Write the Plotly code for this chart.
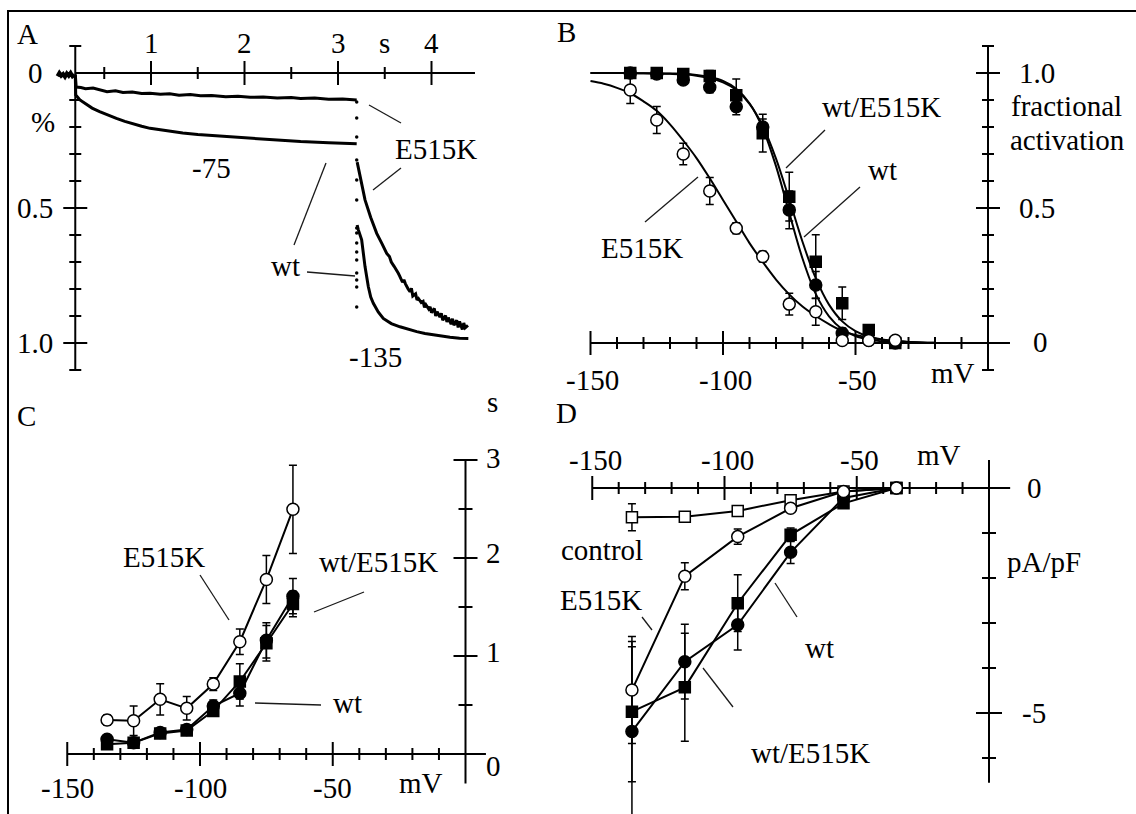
import plotly.graph_objects as go

W, H = 1136, 814
FONT = "'Liberation Serif', 'Times New Roman', Times, serif"
FS = 29
INK = "black"

# ---------------- Panel A: current traces (fraction of -135 mV level) ----------------
a_t_major = [1, 2, 3, 4]
a_t_minor = [0.5, 1.5, 2.5, 3.5]
a_t_label_at = [1, 2, 3, 3.5, 4]
a_t_labels = ["1", "2", "3", "s", "4"]
a_f_major = [0.5, 1.0]
a_f_minor = [-0.1, 0.1, 0.2, 0.3, 0.4, 0.6, 0.7, 0.8, 0.9, 1.1]
a_f_label_at = [0, 0.5, 1.0]
a_f_labels = ["0", "0.5", "1.0"]

a_hold_t = [0.0, 0.02, 0.04, 0.06, 0.08, 0.10, 0.12, 0.14, 0.16, 0.18]
a_hold_f = [0.012, 0.0, 0.01, 0.004, 0.014, 0.002, 0.01, 0.0, 0.012, 0.006]

a_mut75_t = [0.19, 0.2, 0.25, 0.3, 0.38, 0.45, 0.53, 0.62, 0.7, 0.8, 0.9, 0.99, 1.1, 1.2, 1.3,
             1.42, 1.53, 1.65, 1.8, 1.93, 2.06, 2.2, 2.35, 2.5, 2.6, 2.75, 2.9, 3.05, 3.2]
a_mut75_f = [0.006, 0.052, 0.054, 0.058, 0.056, 0.062, 0.069, 0.066, 0.072, 0.07, 0.076, 0.075,
             0.079, 0.077, 0.082, 0.08, 0.084, 0.083, 0.088, 0.086, 0.09, 0.089, 0.093, 0.091,
             0.094, 0.093, 0.097, 0.096, 0.1]

a_wt75_t = [0.19, 0.195, 0.24, 0.3, 0.37, 0.45, 0.54, 0.63, 0.72, 0.8, 0.9, 0.99, 1.15, 1.34,
            1.5, 1.7, 1.9, 2.06, 2.3, 2.6, 2.9, 3.2]
a_wt75_f = [0.006, 0.081, 0.1, 0.115, 0.13, 0.143, 0.156, 0.168, 0.179, 0.188, 0.197, 0.205,
            0.214, 0.222, 0.228, 0.233, 0.238, 0.242, 0.248, 0.254, 0.258, 0.262]

a_step_t = [3.2] * 15
a_step_f = [0.107, 0.167, 0.237, 0.322, 0.396, 0.47, 0.574, 0.593, 0.63, 0.663, 0.693,
            0.741, 0.767, 0.793, 0.867]

a_mut135_t = [3.205, 3.24, 3.289, 3.35, 3.414, 3.47, 3.521, 3.55, 3.57, 3.6, 3.628, 3.645,
              3.66, 3.69, 3.705, 3.72, 3.75, 3.77, 3.785, 3.8, 3.83, 3.845, 3.86, 3.89, 3.91,
              3.925, 3.94, 3.97, 3.985, 4.0, 4.03, 4.045, 4.06, 4.09, 4.105, 4.12, 4.15, 4.165,
              4.18, 4.21, 4.225, 4.24, 4.27, 4.285, 4.3, 4.33, 4.345, 4.36, 4.39]
a_mut135_f = [0.33, 0.39, 0.47, 0.535, 0.594, 0.632, 0.668, 0.68, 0.7, 0.716, 0.736, 0.742,
              0.752, 0.775, 0.766, 0.78, 0.8, 0.81, 0.797, 0.826, 0.818, 0.84, 0.835, 0.85,
              0.846, 0.868, 0.858, 0.874, 0.866, 0.888, 0.872, 0.9, 0.884, 0.904, 0.89, 0.916,
              0.898, 0.922, 0.906, 0.93, 0.91, 0.934, 0.916, 0.942, 0.92, 0.95, 0.926, 0.944,
              0.935]

a_wt135_t = [3.205, 3.217, 3.253, 3.289, 3.324, 3.35, 3.378, 3.43, 3.484, 3.57, 3.663, 3.75,
             3.842, 3.93, 4.019, 4.11, 4.198, 4.3, 4.394]
a_wt135_f = [0.563, 0.58, 0.618, 0.717, 0.791, 0.83, 0.853, 0.885, 0.909, 0.928, 0.94, 0.95,
             0.958, 0.965, 0.97, 0.975, 0.979, 0.982, 0.983]

# ---------------- Panel B: steady-state activation ----------------
b_mv = [-135, -125, -115, -105, -95, -85, -75, -65, -55, -45, -35]
b_wt = [1.0, 0.996, 0.974, 0.947, 0.875, 0.80, 0.493, 0.215, 0.036, 0.01, 0.0]
b_wt_err = [0.01, 0.01, 0.015, 0.02, 0.03, 0.03, 0.07, 0.05, 0.02, 0.01, 0.0]
b_mix = [1.0, 1.0, 0.996, 0.989, 0.918, 0.777, 0.542, 0.301, 0.147, 0.048, 0.0]
b_mix_err = [0.01, 0.01, 0.01, 0.02, 0.06, 0.07, 0.09, 0.1, 0.06, 0.02, 0.01]
b_mut = [0.937, 0.826, 0.70, 0.563, 0.425, 0.32, 0.144, 0.116, 0.009, 0.009, 0.01]
b_mut_err = [0.05, 0.05, 0.04, 0.05, 0.02, 0.02, 0.04, 0.05, 0.01, 0.01, 0.01]

b_fit_mv = [-150, -145, -140, -135, -130, -125, -120, -115, -110, -105, -100, -95, -90, -85,
            -80, -75, -70, -65, -60, -55, -50, -45, -40, -35, -30, -25, -20]
b_fit_wt = [1.0, 1.0, 1.0, 1.0, 0.999, 0.999, 0.998, 0.997, 0.993, 0.985, 0.971, 0.942, 0.888,
            0.795, 0.655, 0.482, 0.313, 0.182, 0.099, 0.051, 0.026, 0.013, 0.006, 0.003, 0.001,
            0.0, 0.0]
b_fit_mix = [1.0, 1.0, 1.0, 1.0, 0.999, 0.998, 0.997, 0.995, 0.99, 0.981, 0.965, 0.937, 0.886,
             0.804, 0.683, 0.532, 0.375, 0.24, 0.142, 0.08, 0.044, 0.024, 0.013, 0.007, 0.004,
             0.002, 0.001]
b_fit_mut = [0.97, 0.96, 0.945, 0.925, 0.895, 0.86, 0.81, 0.75, 0.685, 0.61, 0.53, 0.45, 0.37,
             0.30, 0.235, 0.18, 0.135, 0.10, 0.07, 0.045, 0.03, 0.02, 0.012, 0.007, 0.004,
             0.002, 0.001]

b_mv_major = [-150, -100, -50]
b_mv_minor = [-140, -130, -120, -110, -90, -80, -70, -60, -40, -30, -20, -10]
b_mv_labels = ["-150", "-100", "-50"]
b_f_major = [0.5, 1.0]
b_f_minor = [-0.1, 0.1, 0.2, 0.3, 0.4, 0.6, 0.7, 0.8, 0.9, 1.1]
b_f_labels = ["1.0", "0.5"]

# ---------------- Panel C: activation time constants (s) ----------------
c_mv = [-135, -125, -115, -105, -95, -85, -75, -65]
c_mut = [0.347, 0.34, 0.558, 0.466, 0.714, 1.146, 1.78, 2.497]
c_mut_err = [0.05, 0.15, 0.16, 0.12, 0.065, 0.13, 0.245, 0.45]
c_wt = [0.15, 0.115, 0.22, 0.25, 0.49, 0.62, 1.16, 1.61]
c_wt_err = [0.03, 0.03, 0.03, 0.03, 0.06, 0.13, 0.18, 0.18]
c_mix = [0.10, 0.115, 0.21, 0.24, 0.44, 0.74, 1.13, 1.53]
c_mix_err = [0.02, 0.03, 0.03, 0.03, 0.05, 0.18, 0.18, 0.13]

c_mv_major = [-150, -100, -50]
c_mv_minor = [-140, -130, -120, -110, -90, -80, -70, -60, -40, -30, -20, -10]
c_mv_labels = ["-150", "-100", "-50"]
c_s_major = [1, 2, 3]
c_s_minor = [0.5, 1.5, 2.5]
c_s_label_at = [3, 2, 1, 0]
c_s_labels = ["3", "2", "1", "0"]

# ---------------- Panel D: current density (pA/pF) ----------------
d_mv = [-135, -115, -95, -75, -55, -35]
d_ctl = [-0.65, -0.64, -0.51, -0.27, -0.08, 0.0]
d_ctl_err = [0.3, 0.06, 0.06, 0.04, 0.03, 0.0]
d_mut = [-4.49, -1.96, -1.08, -0.45, -0.08, 0.0]
d_mut_err = [1.19, 0.3, 0.17, 0.06, 0.03, 0.0]
d_wt = [-5.41, -3.86, -3.04, -1.43, -0.22, 0.0]
d_wt_err = [1.88, 0.83, 0.56, 0.25, 0.05, 0.0]
d_mix = [-4.97, -4.43, -2.56, -1.04, -0.34, 0.0]
d_mix_err = [1.56, 1.2, 0.63, 0.15, 0.05, 0.0]

d_mv_major = [-150, -100, -50]
d_mv_minor = [-140, -130, -120, -110, -90, -80, -70, -60, -40, -30, -20, -10]
d_mv_labels = ["-150", "-100", "-50"]
d_i_major = [-5]
d_i_minor = [-1, -2, -3, -4, -6]

fig = go.Figure()
shapes = []
annotations = []


def axes_for(n, box, xcal, ycal, flip=False):
    """Place a subplot on a pixel box; xcal/ycal = (pixel, value, pixels per unit)."""
    x0, y0, x1, y1 = box
    pr, vr, k = xcal
    xrng = [vr + (x0 - pr) / k, vr + (x1 - pr) / k]
    pr, vr, k = ycal
    if flip:
        yrng = [vr + (y1 - pr) / k, vr + (y0 - pr) / k]
    else:
        yrng = [vr - (y1 - pr) / k, vr - (y0 - pr) / k]
    s = "" if n == 1 else str(n)
    return {
        "xaxis" + s: dict(domain=[x0 / W, x1 / W], range=xrng, anchor="y" + s,
                          visible=False, fixedrange=True),
        "yaxis" + s: dict(domain=[1 - y1 / H, 1 - y0 / H], range=yrng, anchor="x" + s,
                          visible=False, fixedrange=True),
    }


layout_axes = {}
layout_axes.update(axes_for(1, (20, 15, 545, 398), (151, 1.0, 93.5), (73, 0.0, 270), flip=True))
layout_axes.update(axes_for(2, (555, 15, 1136, 398), (988, 0.0, 2.65), (343, 0.0, 270)))
layout_axes.update(axes_for(3, (20, 420, 545, 814), (465.5, 0.0, 2.655), (754, 0.0, 98)))
layout_axes.update(axes_for(4, (555, 420, 1136, 814), (989, 0.0, 2.645), (488, 0.0, 45)))

AX_A, AX_B, AX_C, AX_D = ("x", "y"), ("x2", "y2"), ("x3", "y3"), ("x4", "y4")
LINE = dict(color=INK, width=2)


def h_axis(ax, at, lo, hi, major, minor, mj=12, mn=6):
    xr, yr = ax
    shapes.append(dict(type="line", xref=xr, yref=yr, x0=lo, x1=hi, y0=at, y1=at,
                       layer="below", line=LINE))
    for vals, h in ((major, mj), (minor, mn)):
        for v in vals:
            shapes.append(dict(type="line", xref=xr, yref=yr, x0=v, x1=v, ysizemode="pixel",
                               yanchor=at, y0=-h, y1=h, layer="below", line=LINE))


def v_axis(ax, at, lo, hi, major, minor, mj=12, mn=6):
    xr, yr = ax
    shapes.append(dict(type="line", xref=xr, yref=yr, x0=at, x1=at, y0=lo, y1=hi,
                       layer="below", line=LINE))
    for vals, h in ((major, mj), (minor, mn)):
        for v in vals:
            shapes.append(dict(type="line", xref=xr, yref=yr, y0=v, y1=v, xsizemode="pixel",
                               xanchor=at, x0=-h, x1=h, layer="below", line=LINE))


def data_text(ax, xs, ys, texts, xshift=0, yshift=0, xanchor="center"):
    for x, y, t in zip(xs, ys, texts):
        annotations.append(dict(text=t, x=x, y=y, xref=ax[0], yref=ax[1], xshift=xshift,
                                yshift=yshift, xanchor=xanchor, yanchor="middle",
                                showarrow=False, font=dict(family=FONT, size=FS, color=INK)))


def text(t, px, py, xanchor="center"):
    annotations.append(dict(text=t, x=px / W, y=1 - py / H, xref="paper", yref="paper",
                            xanchor=xanchor, yanchor="middle", showarrow=False,
                            font=dict(family=FONT, size=FS, color=INK)))


def leader(p0, p1):
    shapes.append(dict(type="line", xref="paper", yref="paper",
                       x0=p0[0] / W, y0=1 - p0[1] / H, x1=p1[0] / W, y1=1 - p1[1] / H,
                       line=dict(color="#1a1a1a", width=1.3)))


def trace_line(ax, x, y, width=3, shape="linear"):
    fig.add_trace(go.Scatter(x=x, y=y, xaxis=ax[0], yaxis=ax[1], mode="lines",
                             line=dict(color=INK, width=width, shape=shape),
                             showlegend=False, hoverinfo="skip"))


def series(ax, x, y, err, symbol, filled, lines=True, size=12):
    fig.add_trace(go.Scatter(
        x=x, y=y, xaxis=ax[0], yaxis=ax[1], mode="lines+markers" if lines else "markers",
        line=dict(color=INK, width=2),
        marker=dict(symbol=symbol, size=size, color=INK if filled else "white",
                    line=dict(color=INK, width=1.5)),
        error_y=dict(type="data", array=err, visible=True, color=INK, thickness=1.5, width=4),
        showlegend=False, hoverinfo="skip"))


# ----- Panel A -----
A_T0 = 0.19
h_axis(AX_A, 0, A_T0, 4.465, a_t_major, a_t_minor)
v_axis(AX_A, A_T0, -0.1, 1.1, a_f_major, a_f_minor, mj=12, mn=6)
data_text(AX_A, a_t_label_at, [0] * len(a_t_label_at), a_t_labels, yshift=30)
data_text(AX_A, [A_T0] * 3, a_f_label_at, a_f_labels, xshift=-40)
data_text(AX_A, [A_T0], [0.18], ["%"], xshift=-32)

trace_line(AX_A, a_hold_t, a_hold_f, width=4)
trace_line(AX_A, a_mut75_t, a_mut75_f, width=3)
trace_line(AX_A, a_wt75_t, a_wt75_f, width=3)
trace_line(AX_A, a_mut135_t, a_mut135_f, width=3)
trace_line(AX_A, a_wt135_t, a_wt135_f, width=3)
fig.add_trace(go.Scatter(x=a_step_t, y=a_step_f, xaxis="x", yaxis="y", mode="markers",
                         marker=dict(color=INK, size=3.5), showlegend=False, hoverinfo="skip"))

text("A", 28, 34)
text("-75", 211, 168)
text("E515K", 436, 149)
text("wt", 285, 266)
text("-135", 375, 357)
leader((369, 105), (401, 123))
leader((401, 168), (373, 190))
leader((294, 245), (326, 163))
leader((307, 272), (355, 276))

# ----- Panel B -----
h_axis(AX_B, 0, -150, 8.3, b_mv_major, b_mv_minor)
v_axis(AX_B, 0, -0.1, 1.104, b_f_major + [0], b_f_minor, mj=12, mn=6)
data_text(AX_B, b_mv_major, [0] * 3, b_mv_labels, xshift=2, yshift=-37)
data_text(AX_B, [0, 0], [1.0, 0.5], b_f_labels, xshift=29, xanchor="left")

trace_line(AX_B, b_fit_mv, b_fit_wt, width=2, shape="spline")
trace_line(AX_B, b_fit_mv, b_fit_mix, width=2, shape="spline")
trace_line(AX_B, b_fit_mv, b_fit_mut, width=2, shape="spline")
series(AX_B, b_mv, b_mix, b_mix_err, "square", True, lines=False, size=11)
series(AX_B, b_mv, b_wt, b_wt_err, "circle", True, lines=False)
series(AX_B, b_mv, b_mut, b_mut_err, "circle", False, lines=False)

text("B", 566, 32)
text("0", 1040, 342)
text("mV", 953, 373)
text("fractional", 1009, 106, xanchor="left")
text("activation", 1008, 140, xanchor="left")
text("wt/E515K", 881, 107)
text("wt", 882, 170)
text("E515K", 642, 248)
leader((825, 130), (786, 168))
leader((860, 187), (804, 237))
leader((645, 222), (698, 177))

# ----- Panel C -----
h_axis(AX_C, 0, -150, 7.7, c_mv_major, c_mv_minor)
v_axis(AX_C, 0, -0.3, 3.0, c_s_major, c_s_minor, mj=12, mn=7)
data_text(AX_C, c_mv_major, [0] * 3, c_mv_labels, yshift=-34)
for val, lab, dy in zip(c_s_label_at, c_s_labels, [-2, -5, -4, 12]):
    data_text(AX_C, [0], [val], [lab], xshift=28, yshift=-dy)

series(AX_C, c_mv, c_mix, c_mix_err, "square", True, size=11)
series(AX_C, c_mv, c_wt, c_wt_err, "circle", True)
series(AX_C, c_mv, c_mut, c_mut_err, "circle", False)

text("C", 26, 416)
text("s", 492, 402)
text("mV", 421, 783)
text("E515K", 164, 557)
text("wt/E515K", 378, 562)
text("wt", 347, 703)
leader((200, 575), (229, 620))
leader((364, 592), (314, 612))
leader((255, 703), (321, 705))

# ----- Panel D -----
h_axis(AX_D, 0, -150, 8, d_mv_major, d_mv_minor)
v_axis(AX_D, 0, -6.55, 0.62, d_i_major, d_i_minor, mj=13, mn=7)
data_text(AX_D, d_mv_major, [0] * 3, d_mv_labels, xshift=3, yshift=28)
data_text(AX_D, [0], [0], ["0"], xshift=36, xanchor="left")
data_text(AX_D, [0], [-5], ["-5"], xshift=31, xanchor="left")

series(AX_D, d_mv, d_ctl, d_ctl_err, "square", False, size=11)
series(AX_D, d_mv, d_mix, d_mix_err, "square", True, size=11)
series(AX_D, d_mv, d_wt, d_wt_err, "circle", True)
series(AX_D, d_mv, d_mut, d_mut_err, "circle", False)

text("D", 566, 413)
text("mV", 939, 455)
text("pA/pF", 1044, 562)
text("control", 602, 550)
text("E515K", 601, 600)
text("wt", 819, 648)
text("wt/E515K", 810, 753)
leader((642, 617), (652, 630))
leader((775, 583), (797, 617))
leader((703, 668), (733, 707))

# figure frame
shapes.append(dict(type="rect", xref="paper", yref="paper", x0=8 / W, y0=1 - 11 / H,
                   x1=1.01, y1=-0.01, line=dict(color=INK, width=2)))

fig.update_layout(
    width=W, height=H, margin=dict(l=0, r=0, t=0, b=0),
    paper_bgcolor="white", plot_bgcolor="rgba(0,0,0,0)",
    showlegend=False, shapes=shapes, annotations=annotations,
    font=dict(family=FONT, size=FS, color=INK),
    **layout_axes,
)

fig.write_html("out.html")
